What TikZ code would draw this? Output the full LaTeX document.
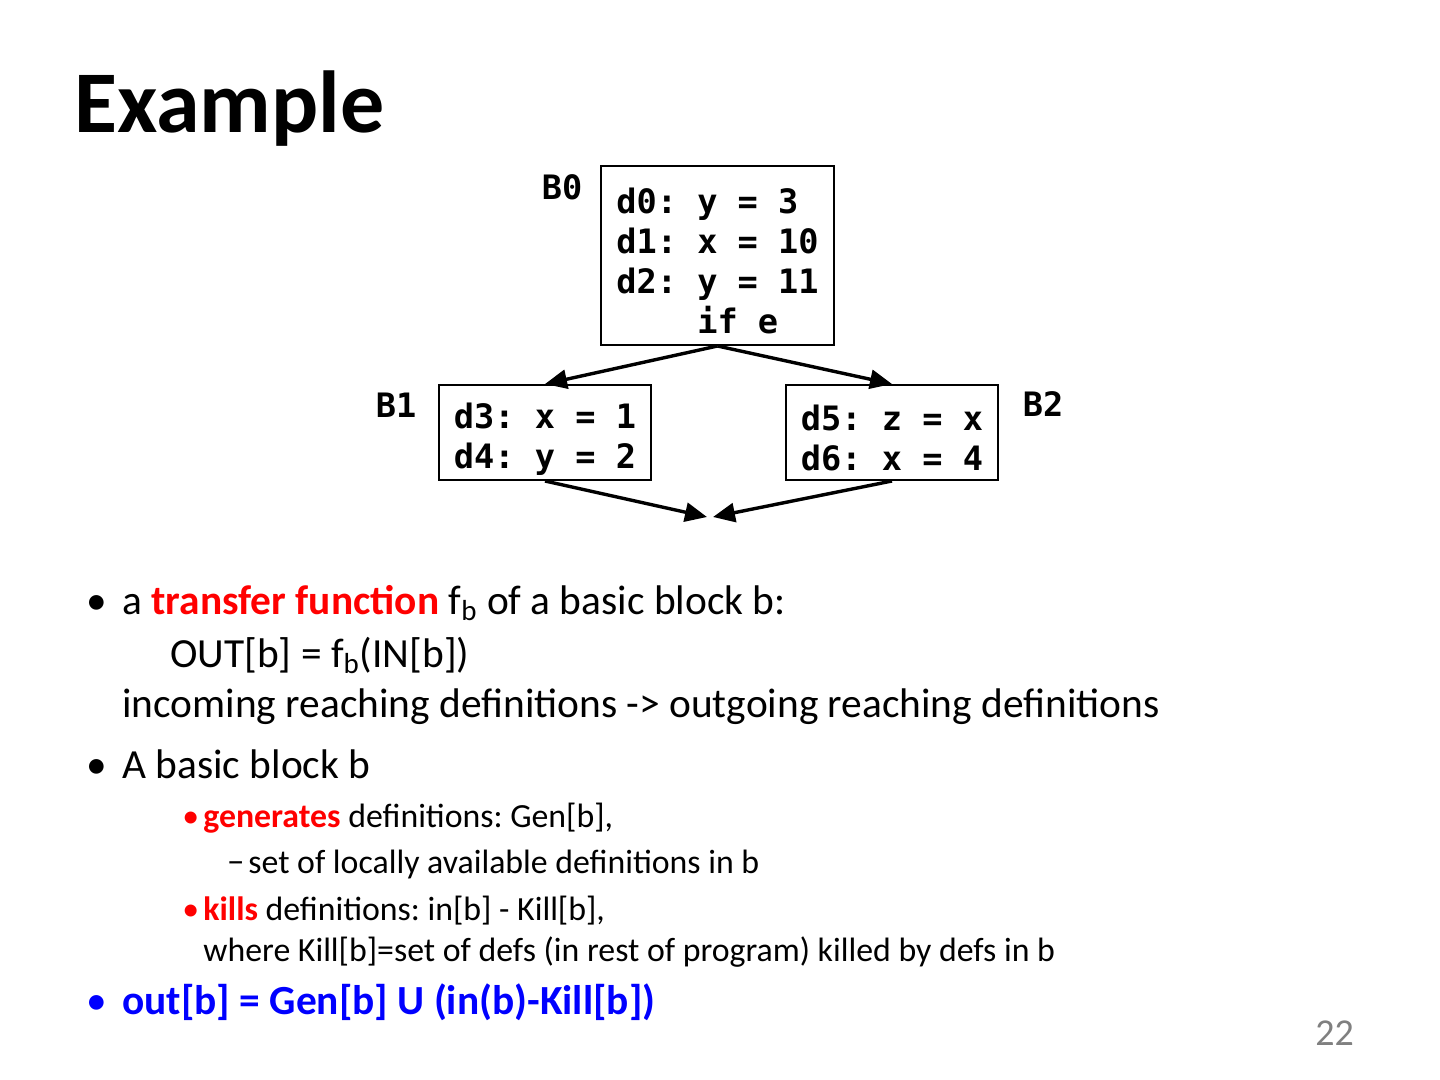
\documentclass[tikz,border=0pt]{standalone}
\usepackage{fontspec}
\setmainfont{Carlito}
\newfontfamily\codefont{DejaVu Sans Mono}
\usetikzlibrary{arrows.meta}
\frenchspacing
\definecolor{kred}{RGB}{255,0,0}
\definecolor{kblue}{RGB}{0,0,255}
\definecolor{pgray}{RGB}{128,128,128}
\newcommand\cstrut{\rule[-1pt]{0pt}{20pt}}
\newcommand\mycodeset{\codefont\bfseries\fontsize{16.8}{20}\selectfont\frenchspacing\lineskiplimit-100pt\relax}
\begin{document}
\begin{tikzpicture}[x=0.5pt,y=-0.5pt,
  txt/.style={anchor=base west, inner sep=0pt, font=\fontsize{20.7}{24}\selectfont},
  subtxt/.style={anchor=base west, inner sep=0pt, font=\fontsize{16.9}{20}\selectfont},
  blk/.style={draw, line width=1pt, font=\mycodeset, align=left, inner xsep=0pt, inner ysep=0pt},
  lbl/.style={font=\codefont\bfseries\fontsize{16.8}{20}\selectfont, inner sep=0pt},
  arr/.style={line width=1.7pt, -{Triangle[length=11pt,width=9.5pt]}}]
\useasboundingbox (0,0) rectangle (1440,1080);
% title
\node[anchor=base west, inner sep=0pt, font=\bfseries\fontsize{44}{50}\selectfont] (title) at (74,133) {Example};
% blocks
\node[blk, minimum width=116.5pt, minimum height=89.5pt] (b0) at (717.5,255.5)
  {\cstrut d0: y = 3\\\cstrut d1: x = 10\\\cstrut d2: y = 11\\\cstrut\hphantom{d2: }if e};
\node[blk, minimum width=106pt, minimum height=47.5pt] (b1) at (545,432.5)
  {\cstrut d3: x = 1\\\cstrut d4: y = 2};
\node[blk, minimum width=106pt, minimum height=47.5pt] (b2) at (892,432.5)
  {\cstrut d5: z = x\\\cstrut d6: x = 4};
\node[lbl] (lb0) at (562,187) {B0};
\node[lbl] (lb1) at (396,405) {B1};
\node[lbl] (lb2) at (1043,404) {B2};
\coordinate (ml) at (707,517);
\coordinate (mr) at (713,517);
\draw[arr] (b0.south) -- (b1.north);
\draw[arr] (b0.south) -- (b2.north);
\draw[arr] (b1.south) -- (ml);
\draw[arr] (b2.south) -- (mr);
% body text
\node[txt] (bu1) at (86,614) {\textbullet};
\node[txt] (l1) at (122,614) {a \textcolor{kred}{\textbf{transfer function}} f\textsubscript{b} of a basic block b:};
\node[txt] (l2) at (170,667) {OUT[b] = f\textsubscript{b}(IN[b])};
\node[txt] (l3) at (122,717) {incoming reaching definitions -> outgoing reaching definitions};
\node[txt] (bu2) at (86,778) {\textbullet};
\node[txt] (l4) at (122,778) {A basic block b};
\node[subtxt, text=kred] (bu3) at (182,827) {\textbullet};
\node[subtxt] (l5) at (203,827) {\textcolor{kred}{\textbf{generates}} definitions: Gen[b],};
\node[subtxt] (da1) at (227,873) {−};
\node[subtxt] (l6) at (248,873) {set of locally available definitions in b};
\node[subtxt, text=kred] (bu4) at (182,920) {\textbullet};
\node[subtxt] (l7) at (203,920) {\textcolor{kred}{\textbf{kills}} definitions: in[b] - Kill[b],};
\node[subtxt] (l8) at (203,961) {where Kill[b]=set of defs (in rest of program) killed by defs in b};
\node[txt, text=kblue] (bu5) at (86,1014) {\textbullet};
\node[txt, text=kblue] (l9) at (122,1014) {\textbf{out[b] = Gen[b] U (in(b)-Kill[b])}};
\node[anchor=base west, inner sep=0pt, text=pgray, font=\fontsize{19}{22}\selectfont] (pg) at (1315,1045) {22};
\end{tikzpicture}
\end{document}
